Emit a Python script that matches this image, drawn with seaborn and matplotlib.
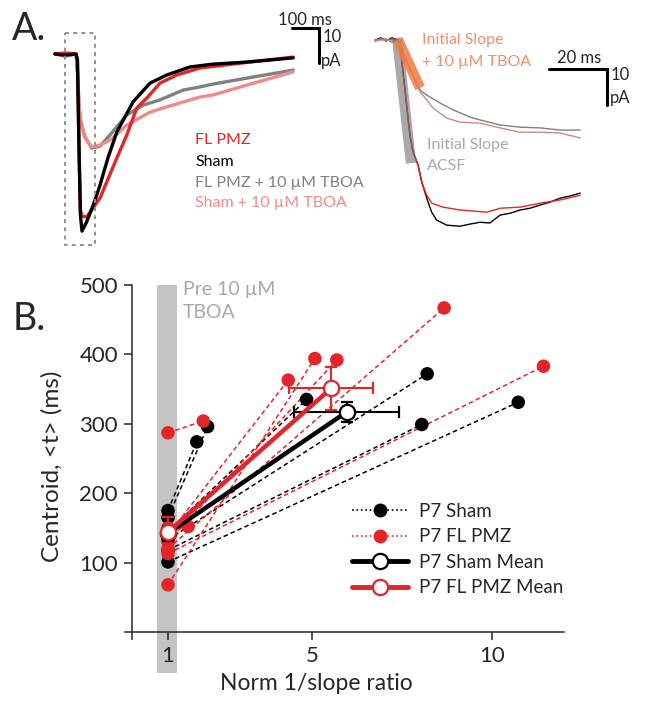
import numpy as np
import pandas as pd
import seaborn as sns
import matplotlib.pyplot as plt
from matplotlib.lines import Line2D

# ---- panel A, left: full responses (time in ms, current in pA)
t_sham = [0, 37, 78, 83, 89, 94, 100, 117, 142, 167, 196, 229, 289, 352, 414, 500, 585, 710, 882]
i_sham = [0, -0.3, 0, -1.7, -27.4, -46.0, -50.6, -48.0, -43.1, -37.4, -29.7, -22.3, -13.7, -8.3, -6.0, -3.7, -2.9, -2.3, -1.1]
t_pmz = [0, 37, 78, 83, 89, 94, 100, 117, 167, 229, 266, 303, 340, 389, 451, 537, 722, 882]
i_pmz = [0, 0.3, 0, -1.7, -27.4, -44.6, -46.3, -46.6, -41.1, -29.7, -23.1, -15.4, -12.6, -8.3, -6.0, -4.0, -2.3, -0.9]
t_pmz_tboa = [0, 37, 78, 83, 89, 96, 111, 136, 167, 204, 266, 327, 389, 475, 537, 585, 710, 882]
i_pmz_tboa = [0, -0.6, 0, -4.6, -14.6, -19.4, -23.7, -26.9, -26.3, -23.1, -17.4, -14.6, -13.1, -10.3, -9.4, -8.6, -6.9, -4.6]
t_sham_tboa = [0, 37, 78, 83, 89, 96, 111, 136, 167, 204, 266, 352, 414, 537, 585, 710, 882]
i_sham_tboa = [0, -0.3, 0, -5.1, -15.4, -20.0, -24.0, -26.6, -26.0, -24.6, -20.3, -16.6, -15.1, -12.3, -11.7, -8.9, -5.1]

# ---- panel A, right: onset zoom (ms, pA)
tz_sham = [-7.9, -5.9, -4.1, -2.1, 0, 0.7, 2.4, 4.1, 5.2, 6.9, 8.2, 9.9, 11.6, 13.3, 16.8, 21.4, 24.8, 28.3,
           31.7, 35.2, 38.6, 42.1, 45.5, 49.0, 52.4, 55.9, 59.3, 62.8]
iz_sham = [0, 0.6, -0.3, 0.6, 0, -1.4, -13.9, -26.4, -31.1, -34.7, -39.4, -43.9, -47.8, -50.0, -51.4, -51.7, -51.1,
           -50.6, -50.8, -48.6, -48.1, -47.2, -46.7, -45.8, -45.0, -43.9, -43.3, -42.5]
tz_pmz = [-7.9, -5.9, -4.1, -2.1, 0, 0.7, 2.4, 4.1, 5.2, 6.9, 8.2, 9.9, 11.6, 15.5, 21.4, 30.6, 35.2, 42.1, 49.0, 55.9, 62.8]
iz_pmz = [-0.3, 0.3, 0, 0.3, 0, -1.4, -13.9, -26.4, -31.1, -34.7, -39.7, -43.1, -45.3, -46.4, -47.2, -47.8, -46.7,
          -46.4, -45.3, -44.4, -43.1]
tz_pmz_tboa = [-7.9, -5.9, -4.1, -2.1, 0, 1.4, 4.1, 7.6, 9.9, 14.5, 19.0, 24.8, 28.3, 35.2, 42.1, 49.0, 55.9, 62.8]
iz_pmz_tboa = [0, 0.3, 0.3, -0.6, 0, -2.8, -7.8, -13.9, -15.3, -17.5, -19.4, -21.4, -22.2, -23.6, -24.2, -24.4, -25.0, -25.0]
tz_sham_tboa = [-7.9, -5.9, -4.1, -2.1, 0, 1.4, 4.1, 7.6, 8.6, 12.1, 16.8, 21.4, 28.3, 35.2, 42.1, 49.0, 55.9, 62.8]
iz_sham_tboa = [-0.3, 0, 0, -0.3, 0, -3.3, -8.3, -14.4, -15.3, -18.9, -21.7, -22.8, -23.1, -24.4, -25.6, -25.6, -25.8, -27.2]

# initial slope fits (ms, pA)
slope_acsf_t = [-0.3, 4.5]
slope_acsf_i = [0.6, -34.2]
slope_tboa_t = [0, 7.6]
slope_tboa_i = [0, -13.3]

# ---- panel B: centroid vs normalised 1/slope ratio
sham_pre = [175, 165, 145, 133, 118, 101]
sham_post_x = [1.80, 2.10, 4.85, 8.20, 8.05, 10.73]
sham_post_y = [274, 296, 335, 372, 299, 331]
pmz_pre = [287, 68, 150, 140, 130, 120, 113]
pmz_post_x = [1.98, 5.08, 1.56, 4.34, 5.69, 8.67, 11.43]
pmz_post_y = [304, 394, 152, 363, 392, 467, 383]

sham_mean_x = [1, 5.96]
sham_mean_y = [142, 317]
sham_sem_x = [0, 1.46]
sham_sem_y = [11, 14]
pmz_mean_x = [1, 5.53]
pmz_mean_y = [144, 351]
pmz_sem_x = [0, 1.17]
pmz_sem_y = [22, 31]

RED = '#E5242A'
PINK = '#F28A8A'
GRAY = '#808080'
LGRAY = '#A8A8A8'
ORANGE = '#F0906C'

sns.set_style('white')
plt.rcParams['font.family'] = ['Lato', 'DejaVu Sans']

W, H = 645, 706
fig = plt.figure(figsize=(W / 100, H / 100), dpi=100)


def px_axes(x0, y0, x1, y1):
    return fig.add_axes([x0 / W, 1 - y1 / H, (x1 - x0) / W, (y1 - y0) / H])


def ftext(px, py, s, **kw):
    fig.text(px / W, 1 - py / H, s, **kw)


# ---------- A left
axl = px_axes(40, 10, 350, 250)
for t, i, c in [(t_pmz_tboa, i_pmz_tboa, GRAY), (t_sham_tboa, i_sham_tboa, PINK),
                (t_pmz, i_pmz, RED), (t_sham, i_sham, 'black')]:
    sns.lineplot(x=t, y=i, sort=False, estimator=None, color=c, lw=2.4, ax=axl)
axl.plot([37, 148, 148, 37, 37], [6.0, 6.0, -54.6, -54.6, 6.0], color='#909090', lw=1.4, ls=(0, (2, 2.2)))
axl.plot([878, 978, 978], [7.4, 7.4, -2.6], color='black', lw=2.2, solid_joinstyle='miter')
axl.set_xlim(-55.6, 1092.6)
axl.set_ylim(-56.0, 12.57)
axl.axis('off')

# ---------- A right
axr = px_axes(360, 10, 640, 250)
for t, i, c in [(tz_sham, iz_sham, 'black'), (tz_pmz, iz_pmz, RED),
                (tz_pmz_tboa, iz_pmz_tboa, GRAY), (tz_sham_tboa, iz_sham_tboa, '#C98A8C')]:
    sns.lineplot(x=t, y=i, sort=False, estimator=None, color=c, lw=1.0, ax=axr)
axr.plot(slope_acsf_t, slope_acsf_i, color='#707070', alpha=0.6, lw=7.5, solid_capstyle='butt')
axr.plot(slope_tboa_t, slope_tboa_i, color='#F27A45', alpha=0.85, lw=7.5, solid_capstyle='butt')
axr.plot([52.1, 72.1, 72.1], [-8.06, -8.06, -18.06], color='black', lw=2.2, solid_joinstyle='miter')
axr.set_xlim(-13.1, 83.4)
axr.set_ylim(-58.3, 8.33)
axr.axis('off')

# A texts
ftext(12, 40, 'A.', fontsize=27, va='baseline')
ftext(278, 25, '100 ms', fontsize=12, va='baseline')
ftext(323, 37, '10', fontsize=12, va='center')
ftext(321, 61, 'pA', fontsize=12, va='center')
ftext(195, 140, 'FL PMZ', fontsize=11.5, color=RED, va='center')
ftext(195, 162, 'Sham', fontsize=11.5, color='black', va='center')
ftext(195, 183, 'FL PMZ + 10 µM TBOA', fontsize=11.5, color=GRAY, va='center')
ftext(195, 203, 'Sham + 10 µM TBOA', fontsize=11.5, color=PINK, va='center')
ftext(422, 40, 'Initial Slope', fontsize=11.5, color=ORANGE, va='center')
ftext(422, 62, '+ 10 µM TBOA', fontsize=11.5, color=ORANGE, va='center')
ftext(427, 145, 'Initial Slope', fontsize=11.5, color=LGRAY, va='center')
ftext(427, 166, 'ACSF', fontsize=11.5, color=LGRAY, va='center')
ftext(557, 63, '20 ms', fontsize=12, va='baseline')
ftext(611, 75, '10', fontsize=12, va='center')
ftext(610, 98, 'pA', fontsize=12, va='center')

# ---------- B
ax = px_axes(124.8, 285, 564, 632)

rows = []
for k, (y0, x1, y1) in enumerate(zip(sham_pre, sham_post_x, sham_post_y)):
    rows += [('P7 Sham', f's{k}', 1.0, y0), ('P7 Sham', f's{k}', x1, y1)]
for k, (y0, x1, y1) in enumerate(zip(pmz_pre, pmz_post_x, pmz_post_y)):
    rows += [('P7 FL PMZ', f'p{k}', 1.0, y0), ('P7 FL PMZ', f'p{k}', x1, y1)]
df = pd.DataFrame(rows, columns=['group', 'cell', 'ratio', 'centroid'])
pal = {'P7 Sham': 'black', 'P7 FL PMZ': RED}

band = ax.axvspan(0.69, 1.25, ymin=-0.118, ymax=1, color='#C4C4C4', lw=0, zorder=0)
band.set_clip_on(False)

sns.lineplot(data=df, x='ratio', y='centroid', hue='group', units='cell', estimator=None,
             sort=False, palette=pal, lw=1.1, linestyle=(0, (3, 2)), legend=False, ax=ax)
sns.scatterplot(data=df, x='ratio', y='centroid', hue='group', palette=pal, s=95,
                edgecolor='none', legend=False, zorder=3, ax=ax)

for mx, my, ex, ey, c in [(sham_mean_x, sham_mean_y, sham_sem_x, sham_sem_y, 'black'),
                          (pmz_mean_x, pmz_mean_y, pmz_sem_x, pmz_sem_y, RED)]:
    ax.errorbar(mx, my, xerr=ex, yerr=ey, color=c, lw=3.2, marker='o', ms=11, mfc='white',
                mec=c, mew=1.6, elinewidth=1.5, capsize=4, capthick=1.5, zorder=4)

ax.set_xlim(-0.2, 12)
ax.set_ylim(0, 500)
ax.spines['left'].set_position(('data', 0))
for s in ['top', 'right']:
    ax.spines[s].set_visible(False)
for s in ['left', 'bottom']:
    ax.spines[s].set_linewidth(1.1)
ax.set_xticks([0, 1, 5, 10])
ax.set_xticklabels(['', '1', '5', '10'])
ax.set_yticks([100, 200, 300, 400, 500])
ax.tick_params(direction='out', length=6, width=1.1, labelsize=16, pad=4, left=True, bottom=True)
ax.set_xlabel('')
ax.set_ylabel('')

handles = [
    Line2D([], [], color='black', ls=':', lw=1.2, marker='o', ms=10, mec='none'),
    Line2D([], [], color=RED, ls=':', lw=1.2, marker='o', ms=10, mec='none'),
    Line2D([], [], color='black', lw=3.5, marker='o', ms=11, mfc='white', mec='black', mew=1.6),
    Line2D([], [], color=RED, lw=3.5, marker='o', ms=11, mfc='white', mec=RED, mew=1.6),
]
ax.legend(handles, ['P7 Sham', 'P7 FL PMZ', 'P7 Sham Mean', 'P7 FL PMZ Mean'], frameon=False,
          loc='upper left', bbox_to_anchor=(352 / W, 1 - 503 / H), bbox_transform=fig.transFigure,
          borderpad=0, borderaxespad=0, fontsize=13.5, handlelength=3.0, handletextpad=0.55,
          labelspacing=0.45)

ftext(13, 330, 'B.', fontsize=27, va='baseline')
ftext(183, 290, 'Pre 10 µM', fontsize=14, color=LGRAY, va='center')
ftext(183, 313, 'TBOA', fontsize=14, color=LGRAY, va='center')
ftext(52, 466, 'Centroid, <t> (ms)', fontsize=17.5, rotation=90, va='center', ha='center')
ftext(316, 683, 'Norm 1/slope ratio', fontsize=16.5, va='center', ha='center')

fig.savefig('out.png', dpi=100)
